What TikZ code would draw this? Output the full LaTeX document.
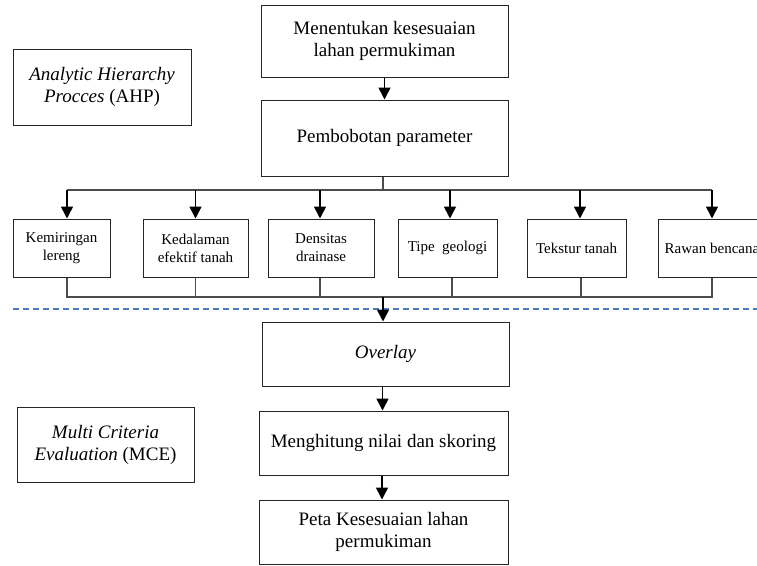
\documentclass[tikz,border=0pt]{standalone}
\usepackage{fontspec}
\setmainfont{Liberation Serif}
\usetikzlibrary{arrows.meta}
\definecolor{dashblue}{HTML}{4A7CC4}
\begin{document}
\begin{tikzpicture}[x=1pt,y=-1pt,
  box/.style={draw=black!85,line width=1pt,inner sep=0pt,align=center,fill=white},
  bigtxt/.style={font=\fontsize{19}{22}\selectfont},
  smalltxt/.style={font=\fontsize{15}{18}\selectfont},
  arr/.style={draw=black,line width=1.6pt,-{Triangle[length=12pt,width=12pt]}},
  link/.style={draw=black!70,line width=1.1pt},
  sep/.style={draw=dashblue,line width=1.3pt,dash pattern=on 6pt off 4pt}]
\useasboundingbox (0,0) rectangle (757,565);
\clip (0,0) rectangle (757,565);
% main column
\node[box,bigtxt,minimum width=247pt,minimum height=72pt] (top) at (384.5,41) {Menentukan kesesuaian\\lahan permukiman};
\node[box,bigtxt,minimum width=247pt,minimum height=76pt] (pemb) at (384.5,138) {Pembobotan parameter};
\node[box,bigtxt,minimum width=178pt,minimum height=76pt] (ahp) at (102,87) {\textit{Analytic Hierarchy}\\\textit{Procces} (AHP)};
% parameters
\node[box,smalltxt,minimum width=97pt,minimum height=58pt] (b1) at (61.5,248) {Kemiringan\\lereng};
\node[box,smalltxt,minimum width=105pt,minimum height=58pt] (b2) at (195.5,248) {Kedalaman\\efektif tanah};
\node[box,smalltxt,minimum width=106pt,minimum height=58pt] (b3) at (321,248) {Densitas\\drainase};
\node[box,smalltxt,minimum width=99pt,minimum height=58pt] (b4) at (447.5,248) {Tipe\ \ geologi};
\node[box,smalltxt,minimum width=99pt,minimum height=58pt] (b5) at (576.5,248) {Tekstur tanah};
\node[box,smalltxt,minimum width=108pt,minimum height=58pt] (b6) at (712,248) {Rawan bencana};
% lower column
\node[box,bigtxt,minimum width=247pt,minimum height=64pt] (ovl) at (385.5,354) {\textit{Overlay}};
\node[box,bigtxt,minimum width=249pt,minimum height=64pt] (hit) at (383.5,443) {Menghitung nilai dan skoring};
\node[box,bigtxt,minimum width=249pt,minimum height=64pt] (peta) at (383.5,532) {Peta Kesesuaian lahan\\permukiman};
\node[box,bigtxt,minimum width=177pt,minimum height=75pt] (mce) at (105.5,444.5) {\textit{Multi Criteria}\\\textit{Evaluation} (MCE)};
% coordinates for branches
\coordinate (bt) at (383,190);
\coordinate (bb) at (383,297);
\coordinate (dl) at (13,309);
\coordinate (dr) at (757,309);
% connectors
\draw[arr] (top.south) -- (top.south |- pemb.north);
\draw[link] (pemb.south -| bt) -- (bt);
\draw[link] ([xshift=5.5pt]b1.north |- bt) -- ([xshift=0pt]b6.north |- bt);
\draw[arr] ([xshift=5.5pt]b1.north |- bt) -- ([xshift=5.5pt]b1.north);
\draw[arr] (b2.north |- bt) -- (b2.north);
\draw[arr] ([xshift=-1pt]b3.north |- bt) -- ([xshift=-1pt]b3.north);
\draw[arr] ([xshift=2.5pt]b4.north |- bt) -- ([xshift=2.5pt]b4.north);
\draw[arr] ([xshift=3.5pt]b5.north |- bt) -- ([xshift=3.5pt]b5.north);
\draw[arr] (b6.north |- bt) -- (b6.north);
\draw[link] ([xshift=5.5pt]b1.south) -- ([xshift=5.5pt]b1.south |- bb) -- (b6.south |- bb) -- (b6.south);
\draw[link] (b2.south) -- (b2.south |- bb);
\draw[link] ([xshift=-1pt]b3.south) -- ([xshift=-1pt]b3.south |- bb);
\draw[link] ([xshift=4.5pt]b4.south) -- ([xshift=4.5pt]b4.south |- bb);
\draw[link] ([xshift=4.5pt]b5.south) -- ([xshift=4.5pt]b5.south |- bb);
\draw[sep] (dl) -- (dr);
\draw[arr] (bb) -- (bb |- ovl.north);
\draw[arr] ([xshift=-3pt]ovl.south) -- ([xshift=-3pt]ovl.south |- hit.north);
\draw[arr] ([xshift=-1.5pt]hit.south) -- ([xshift=-1.5pt]hit.south |- peta.north);
\end{tikzpicture}
\end{document}
